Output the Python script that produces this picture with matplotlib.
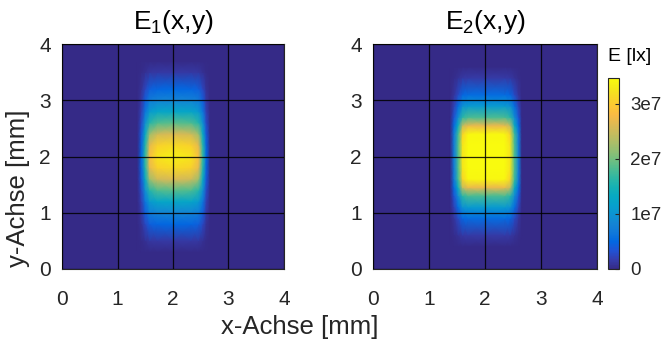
import numpy as np
import matplotlib
matplotlib.use("Agg")
import matplotlib.pyplot as plt
from matplotlib.colors import LinearSegmentedColormap

# ---- data ----
# E1: profiles along x and y (relative), peak value
x1_pts = [0.0, 1.36, 1.43, 1.50, 1.58, 1.72, 2.00, 2.32, 2.46, 2.54, 2.60, 2.67, 4.0]
x1_rel = [0.0, 0.0, 0.15, 0.50, 0.85, 0.97, 1.00, 0.97, 0.85, 0.50, 0.15, 0.0, 0.0]
y1_pts = [0.0, 0.3, 0.5, 0.8, 1.0, 1.2, 1.4, 1.6, 1.8, 2.0, 2.2, 2.4, 2.6, 2.8, 3.0, 3.2, 3.5, 3.7, 4.0]
y1_rel = [0.0, 0.0, 0.04, 0.15, 0.25, 0.38, 0.56, 0.78, 0.94, 1.0, 0.94, 0.78, 0.56, 0.38, 0.25, 0.15, 0.04, 0.0, 0.0]
E1_peak = 3.35e7

# E2: profiles along x and y (relative), peak value
x2_pts = [0.0, 1.38, 1.45, 1.52, 1.60, 1.70, 2.00, 2.35, 2.45, 2.53, 2.60, 2.66, 4.0]
x2_rel = [0.0, 0.0, 0.20, 0.50, 0.90, 1.00, 1.00, 1.00, 0.90, 0.50, 0.20, 0.0, 0.0]
y2_pts = [0.0, 0.4, 0.6, 0.9, 1.1, 1.3, 1.45, 1.6, 1.8, 2.2, 2.4, 2.55, 2.7, 2.9, 3.1, 3.4, 3.6, 4.0]
y2_rel = [0.0, 0.0, 0.04, 0.15, 0.30, 0.50, 0.75, 0.95, 1.0, 1.0, 0.95, 0.75, 0.50, 0.30, 0.15, 0.04, 0.0, 0.0]
E2_peak = 3.6e7

E_max = 3.47e7
titles = [r"E$_\mathrm{1}$(x,y)", r"E$_\mathrm{2}$(x,y)"]
ticks = [0, 1, 2, 3, 4]
cbar_ticks = [0, 1e7, 2e7, 3e7]
cbar_labels = ["0", "1e7", "2e7", "3e7"]

# ---- parula colormap ----
parula_anchors = [
    (0.2081, 0.1663, 0.5292), (0.2081, 0.2386, 0.6771), (0.1253, 0.3242, 0.8303),
    (0.0060, 0.4086, 0.8828), (0.0629, 0.4737, 0.8554), (0.0793, 0.5200, 0.8312),
    (0.0488, 0.5772, 0.8228), (0.0239, 0.6287, 0.8038), (0.0267, 0.6642, 0.7607),
    (0.0843, 0.6928, 0.7062), (0.1801, 0.7177, 0.6424), (0.3022, 0.7376, 0.5712),
    (0.4420, 0.7481, 0.5033), (0.5709, 0.7485, 0.4494), (0.6834, 0.7435, 0.4044),
    (0.7858, 0.7356, 0.3633), (0.8824, 0.7274, 0.3217), (0.9739, 0.7314, 0.2666),
    (0.9955, 0.7861, 0.1967), (0.9697, 0.8481, 0.1475), (0.9598, 0.9218, 0.0948),
    (0.9763, 0.9831, 0.0538)]
parula = LinearSegmentedColormap.from_list("parula", parula_anchors, N=256)

plt.rcParams["font.family"] = ["Liberation Sans", "DejaVu Sans"]
plt.rcParams["mathtext.fontset"] = "custom"
plt.rcParams["mathtext.rm"] = "Liberation Sans"
plt.rcParams["mathtext.it"] = "Liberation Sans:italic"
plt.rcParams["mathtext.bf"] = "Liberation Sans:bold"

fig = plt.figure(figsize=(6.64, 3.45), dpi=100)
ax1 = fig.add_axes([0.0934, 0.2203, 0.3343, 0.652])
ax2 = fig.add_axes([0.5617, 0.2203, 0.3373, 0.652])
cax = fig.add_axes([0.9157, 0.2203, 0.0166, 0.5536])

dark = (0.15, 0.15, 0.15)
data = [(x1_pts, x1_rel, y1_pts, y1_rel, E1_peak),
        (x2_pts, x2_rel, y2_pts, y2_rel, E2_peak)]
mesh = None
for ax, (xp, xr, yp, yr, pk), t in zip([ax1, ax2], data, titles):
    X, Y = np.meshgrid(xp, yp)
    Z = np.outer(yr, xr) * pk
    mesh = ax.pcolormesh(X, Y, Z, shading="gouraud", cmap=parula, vmin=0, vmax=E_max)
    ax.set_xlim(0, 4)
    ax.set_ylim(0, 4)
    ax.set_xticks(ticks)
    ax.set_yticks(ticks)
    ax.grid(True, color="k", lw=0.9, alpha=0.85)
    ax.set_axisbelow(False)
    ax.tick_params(axis="x", direction="in", length=0, labelsize=15, colors=dark, pad=15)
    ax.tick_params(axis="y", direction="in", length=0, labelsize=15, colors=dark, pad=8)
    for s in ax.spines.values():
        s.set_color(dark)
        s.set_linewidth(0.8)
    ax.set_title(t, fontsize=19, color="k", pad=11)

fig.text(0.027, 0.455, "y-Achse [mm]", ha="center", va="center", rotation=90,
         fontsize=18.5, color=dark)
fig.text(0.451, 0.052, "x-Achse [mm]", ha="center", va="center", fontsize=18.5, color=dark)

cb = fig.colorbar(mesh, cax=cax)
cb.set_ticks(cbar_ticks)
cb.set_ticklabels(cbar_labels)
cb.ax.tick_params(direction="in", length=3, labelsize=13.5, colors=dark, width=0.8, pad=8)
cb.outline.set_edgecolor(dark)
cb.outline.set_linewidth(0.8)
cax.text(0.0, 1.07, "E [lx]", transform=cax.transAxes, ha="left", va="bottom",
         fontsize=14, color="k")

fig.savefig("out.png", dpi=100, facecolor="white")
